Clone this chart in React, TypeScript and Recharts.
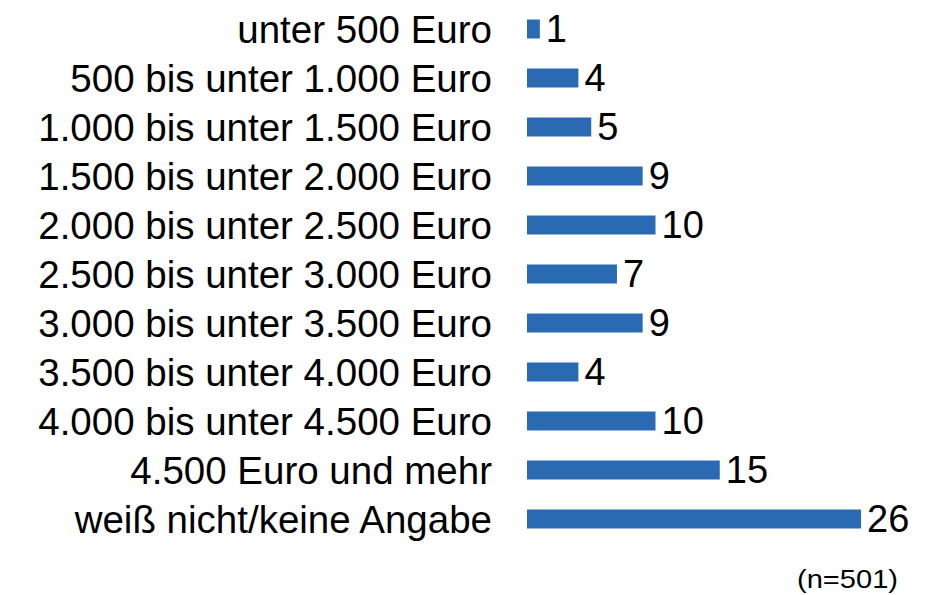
import React from "react";
import { BarChart, Bar, XAxis, YAxis, LabelList } from "recharts";

const categories = [
  "unter 500 Euro",
  "500 bis unter 1.000 Euro",
  "1.000 bis unter 1.500 Euro",
  "1.500 bis unter 2.000 Euro",
  "2.000 bis unter 2.500 Euro",
  "2.500 bis unter 3.000 Euro",
  "3.000 bis unter 3.500 Euro",
  "3.500 bis unter 4.000 Euro",
  "4.000 bis unter 4.500 Euro",
  "4.500 Euro und mehr",
  "weiß nicht/keine Angabe",
];
const values = [1, 4, 5, 9, 10, 7, 9, 4, 10, 15, 26];
const footnote = "(n=501)";

const data = categories.map((c, i) => ({ name: c, value: values[i] }));

const FONT = "'Liberation Sans', Arial, sans-serif";

export default function App() {
  return (
    <div style={{ position: "absolute", left: 0, top: 0, width: 938, height: 595, background: "#fff" }}>
      <BarChart
        width={938}
        height={595}
        data={data}
        layout="vertical"
        margin={{ top: 4.5, right: 25.5, bottom: 51.5, left: 0 }}
      >
        <XAxis type="number" domain={[0, 30]} hide />
        <YAxis
          type="category"
          dataKey="name"
          width={527}
          axisLine={false}
          tickLine={false}
          tickSize={0}
          tickMargin={35}
          interval={0}
          tick={{ fill: "#000", fontSize: 38.5, fontFamily: FONT }}
        />
        <Bar dataKey="value" fill="#2A6AB2" barSize={19} isAnimationActive={false}>
          <LabelList
            dataKey="value"
            position="right"
            offset={6}
            style={{ fill: "#000", fontSize: 38, fontFamily: FONT }}
          />
        </Bar>
      </BarChart>
      <svg width={938} height={595} style={{ position: "absolute", left: 0, top: 0, pointerEvents: "none" }}>
        <text
          x={898}
          y={588}
          textAnchor="end"
          fontSize={25}
          fontFamily={FONT}
          fill="#000"
          textLength={101}
          lengthAdjust="spacingAndGlyphs"
        >
          {footnote}
        </text>
      </svg>
    </div>
  );
}
